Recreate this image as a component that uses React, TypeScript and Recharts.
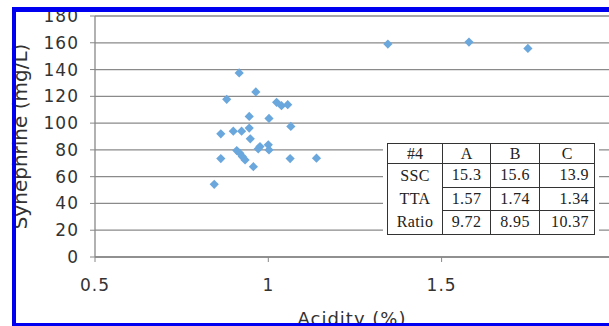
import { ScatterChart, Scatter, XAxis, YAxis, CartesianGrid, Label } from "recharts";

// acidity (%) vs synephrine (mg/L)
const acidity = [
  0.916, 0.964, 0.88, 1.024, 1.038, 1.056, 0.945, 1.002, 1.065, 0.863,
  0.899, 0.923, 0.945, 0.948, 0.909, 0.918, 0.925, 0.933, 0.971, 0.976,
  1.0, 1.002, 0.863, 0.957, 1.063, 1.139, 0.844, 1.345, 1.579, 1.749,
];
const synephrine = [
  137.5, 123.3, 117.8, 115.5, 113, 113.8, 105, 103.5, 97.5, 92,
  94, 94, 96.3, 88.3, 79.5, 77.5, 75, 72.5, 80.8, 82.5,
  83.8, 80, 73.5, 67.5, 73.5, 73.8, 54.3, 159, 160.5, 155.8,
];
const points = acidity.map((x, i) => ({ x, y: synephrine[i] }));

const yTicks = [0, 20, 40, 60, 80, 100, 120, 140, 160, 180];
const xTicks = [0.5, 1, 1.5];

const tableHead = ["#4", "A", "B", "C"];
const tableRows = [
  ["SSC", "15.3", "15.6", "13.9"],
  ["TTA", "1.57", "1.74", "1.34"],
  ["Ratio", "9.72", "8.95", "10.37"],
];

const tickStyle = { fontSize: 17, fill: "#333", fontFamily: "DejaVu Sans", letterSpacing: 1 };

const Diamond = (props: any) => {
  const { cx, cy } = props;
  const r = 4.6;
  return <path d={`M${cx},${cy - r}L${cx + r},${cy}L${cx},${cy + r}L${cx - r},${cy}Z`} fill="#6aa7dc" />;
};

const line = "1px solid #333";

export default function App() {
  return (
    <div style={{ position: "absolute", left: 0, top: 0, width: 609, height: 326, background: "#fff", overflow: "hidden" }}>
      <ScatterChart width={609} height={326} margin={{ top: 16, right: 0, bottom: 0, left: 15 }}>
        <CartesianGrid vertical={false} stroke="#8a8a8a" strokeWidth={1.3} />
        <XAxis
          type="number"
          dataKey="x"
          domain={[0.5, 1.983]}
          allowDataOverflow
          ticks={xTicks}
          height={69}
          tick={tickStyle}
          tickSize={5}
          tickMargin={17}
          axisLine={{ stroke: "#888", strokeWidth: 1.3 }}
          tickLine={{ stroke: "#888" }}
        >
          <Label
            content={({ viewBox }: any) => (
              <text
                x={viewBox.x + viewBox.width / 2}
                y={viewBox.y + viewBox.height - 1}
                textAnchor="middle"
                fontSize={18}
                fontFamily="DejaVu Sans"
                letterSpacing={1}
                fill="#333"
              >
                Acidity (%)
              </text>
            )}
          />
        </XAxis>
        <YAxis
          type="number"
          dataKey="y"
          domain={[0, 180]}
          ticks={yTicks}
          width={80}
          tick={tickStyle}
          tickSize={5}
          tickMargin={11}
          axisLine={{ stroke: "#888", strokeWidth: 1.3 }}
          tickLine={{ stroke: "#888" }}
        >
          <Label
            content={({ viewBox }: any) => {
              const cx = viewBox.x + 12;
              const cy = viewBox.y + viewBox.height / 2;
              return (
                <text
                  x={cx}
                  y={cy}
                  transform={`rotate(-90 ${cx} ${cy})`}
                  textAnchor="middle"
                  fontSize={20}
                  fontFamily="DejaVu Sans"
                  fill="#333"
                >
                  Synephrine (mg/L)
                </text>
              );
            }}
          />
        </YAxis>
        <Scatter data={points} shape={<Diamond />} isAnimationActive={false} />
      </ScatterChart>

      <div style={{ position: "absolute", left: 383, top: 139, padding: 4, background: "#fff" }}>
        <table
          style={{
            borderCollapse: "collapse",
            fontFamily: "Liberation Serif",
            fontSize: 16,
            color: "#222",
            width: 207,
            tableLayout: "fixed",
          }}
        >
          <colgroup>
            <col style={{ width: 55 }} />
            <col style={{ width: 48 }} />
            <col style={{ width: 49 }} />
            <col style={{ width: 55 }} />
          </colgroup>
          <tbody>
            <tr style={{ height: 20 }}>
              {tableHead.map((h) => (
                <td key={h} style={{ border: line, textAlign: "center", padding: 0, lineHeight: "18px" }}>
                  {h}
                </td>
              ))}
            </tr>
            {tableRows.map((row, ri) => (
              <tr key={row[0]} style={{ height: 23.5 }}>
                {row.map((c, ci) => (
                  <td
                    key={ci}
                    style={{
                      borderLeft: line,
                      borderRight: line,
                      borderTop: ci === 0 && ri > 0 ? "none" : line,
                      borderBottom: ci === 0 && ri < tableRows.length - 1 ? "none" : line,
                      textAlign: ci === 3 ? "right" : "center",
                      paddingRight: ci === 3 ? 5 : 0,
                      paddingLeft: 0,
                      paddingTop: 0,
                      paddingBottom: 0,
                      lineHeight: "20px",
                      letterSpacing: 0.4,
                    }}
                  >
                    {c}
                  </td>
                ))}
              </tr>
            ))}
          </tbody>
        </table>
      </div>

      <div
        style={{
          position: "absolute",
          left: 12,
          top: 7,
          width: 620,
          height: 319,
          borderLeft: "4px solid #0000f0",
          borderTop: "5px solid #0000f0",
          borderBottom: "3px solid #0000f0",
          boxSizing: "border-box",
          pointerEvents: "none",
        }}
      />
    </div>
  );
}
